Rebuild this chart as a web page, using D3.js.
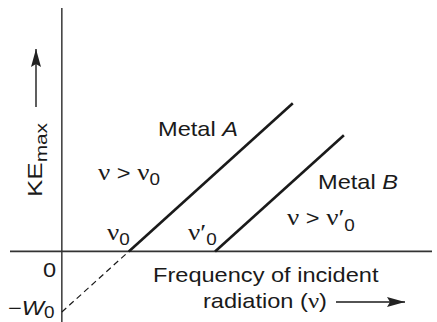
<!DOCTYPE html>
<html><head><meta charset="utf-8">
<script src="https://cdn.jsdelivr.net/npm/d3@7"></script>
<style>
html,body{margin:0;padding:0;background:#fff;}
svg{display:block;font-family:"Liberation Sans",Arial,sans-serif;}
</style></head>
<body>
<svg id="c" width="437" height="322"></svg>
<script>
// Data (arbitrary units: frequency ν, kinetic energy KE)
const xDomain = [-1.4, 10];
const yDomain = [-2.9, 10];
const nu0 = 1.81;        // threshold frequency of metal A
const nu0B = 4.14;       // threshold frequency of metal B
const W0 = -2.49;        // intercept on KE axis (−W0)
const metalA = [{v: 1.81, ke: 0}, {v: 6.24, ke: 6.09}];
const metalB = [{v: 4.14, ke: 0}, {v: 7.62, ke: 4.77}];
const extrapA = [{v: 0, ke: -2.49}, {v: 1.81, ke: 0}];

const svg = d3.select("#c");
const x = d3.scaleLinear().domain(xDomain).range([10, 432]);
const y = d3.scaleLinear().domain(yDomain).range([322, 8]);

const defs = svg.append("defs");
defs.append("marker").attr("id","ah2").attr("viewBox","0 0 18 10")
  .attr("refX",18).attr("refY",5).attr("markerWidth",18).attr("markerHeight",10)
  .attr("markerUnits","userSpaceOnUse").attr("orient","auto")
  .append("path").attr("d","M0,0 L18,5 L0,10 L3,5 Z").attr("fill","#222");

const ink = "#1a1a1a";
// axes
svg.append("line").attr("x1",x(0)).attr("x2",x(0)).attr("y1",y(yDomain[1])).attr("y2",y(yDomain[0]))
  .attr("stroke","#444").attr("stroke-width",1.6);
svg.append("line").attr("x1",x(xDomain[0])).attr("x2",x(xDomain[1])).attr("y1",y(0)).attr("y2",y(0))
  .attr("stroke","#333").attr("stroke-width",1.8);

const line = d3.line().x(d=>x(d.v)).y(d=>y(d.ke));
svg.append("path").attr("d",line(extrapA)).attr("fill","none").attr("stroke",ink)
  .attr("stroke-width",1.2).attr("stroke-dasharray","6,4");
svg.append("path").attr("d",line(metalA)).attr("fill","none").attr("stroke",ink).attr("stroke-width",2.6);
svg.append("path").attr("d",line(metalB)).attr("fill","none").attr("stroke",ink).attr("stroke-width",2.6);

const fs = 20, sx = 1.18;
function txt(px, py, parts, opts={}) {
  const t = svg.append("text").attr("x",0).attr("y",0).attr("font-size",fs).attr("fill",ink)
    .attr("transform", opts.transform || `translate(${px},${py}) scale(${sx},1)`);
  parts.forEach(p=>{
    const s = t.append("tspan").text(p.t);
    if (p.sub) s.attr("font-size",p.size||15).attr("dy",p.dy||5);
    if (p.it) s.attr("font-style","italic");
    if (p.serif) s.attr("font-family","'Liberation Serif',serif").attr("font-size",p.size||23);
  });
  return t;
}
// labels
txt(158,136,[{t:"Metal "},{t:"A",it:true}]);
txt(318,189,[{t:"Metal "},{t:"B",it:true}]);
txt(98,180,[{t:"ν",serif:true},{t:" > "},{t:"ν",serif:true},{t:"0",sub:true,size:16,dy:5}]);
txt(287,225,[{t:"ν",serif:true},{t:" > "},{t:"ν′",serif:true},{t:"0",sub:true,size:16,dy:6}]);
txt(107,240,[{t:"ν",serif:true},{t:"0",sub:true,size:16,dy:5}]);
txt(188,240,[{t:"ν′",serif:true},{t:"0",sub:true,size:16,dy:5}]);
txt(153,282,[{t:"Frequency of incident"}]);
txt(203,308,[{t:"radiation ("},{t:"ν",serif:true,size:21},{t:")"}]);
txt(43,277,[{t:"0"}]);
txt(8,315,[{t:"−"},{t:"W",it:true},{t:"0",sub:true,size:16,dy:3}]);
txt(0,0,[{t:"KE"},{t:"max",sub:true,size:16,dy:5}],{transform:"translate(42,197) rotate(-90) scale(1.3,1)"});

// arrows
svg.append("line").attr("x1",36).attr("x2",36).attr("y1",107).attr("y2",49)
  .attr("stroke",ink).attr("stroke-width",1.4).attr("marker-end","url(#ah2)");
svg.append("line").attr("x1",336).attr("x2",405).attr("y1",302).attr("y2",302)
  .attr("stroke",ink).attr("stroke-width",1.4).attr("marker-end","url(#ah2)");
</script>
</body></html>
